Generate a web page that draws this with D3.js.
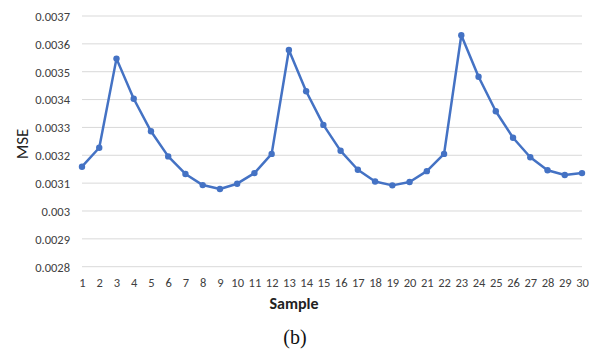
<!DOCTYPE html>
<html><head><meta charset="utf-8">
<script src="https://cdn.jsdelivr.net/npm/d3@7"></script>
<style>body{margin:0;background:#fff}svg{display:block}</style>
</head><body>
<svg id="c" width="590" height="352"></svg>
<script>
const samples = d3.range(1, 31);
const mse = [0.003159,0.003227,0.003547,0.003403,0.003286,0.003196,0.003133,0.003093,0.003079,0.003098,
             0.003136,0.003205,0.003578,0.003430,0.003309,0.003216,0.003148,0.003106,0.003092,0.003104,
             0.003143,0.003205,0.003631,0.003482,0.003358,0.003263,0.003193,0.003146,0.003129,0.003136];
const yTicks = [0.0028,0.0029,0.003,0.0031,0.0032,0.0033,0.0034,0.0035,0.0036,0.0037];
const yTickLabels = ["0.0028","0.0029","0.003","0.0031","0.0032","0.0033","0.0034","0.0035","0.0036","0.0037"];

const svg = d3.select("#c");
const x = d3.scaleLinear().domain([1,30]).range([82,582]);
const y = d3.scaleLinear().domain([0.0028,0.0037]).range([266.7,16]);
const FONT = "Calibri, Carlito, 'Liberation Sans', Arial, sans-serif";

// gridlines
svg.append("g").selectAll("line").data(yTicks).join("line")
  .attr("x1",82).attr("x2",582).attr("y1",d=>y(d)).attr("y2",d=>y(d))
  .attr("stroke","#d9d9d9").attr("stroke-width",1);

// y axis labels
const yAxis = d3.axisLeft(y).tickValues(yTicks).tickSize(0).tickPadding(0)
  .tickFormat((d,i)=>yTickLabels[i]);
const gy = svg.append("g").attr("transform","translate(70,0)").call(yAxis);
gy.select(".domain").remove();
gy.selectAll("text").attr("font-family",FONT)
  .attr("font-size",12.5).attr("fill","#404040").attr("dy","0.35em");

// x axis labels
const xAxis = d3.axisBottom(x).tickValues(samples).tickSize(0).tickPadding(0).tickFormat(d3.format("d"));
const gx = svg.append("g").attr("transform","translate(0,278.5)").call(xAxis);
gx.select(".domain").remove();
gx.selectAll("text").attr("font-family",FONT)
  .attr("font-size",12.5).attr("fill","#404040").attr("dy","0.71em");

// line
svg.append("path").datum(mse)
  .attr("d", d3.line().x((d,i)=>x(samples[i])).y(d=>y(d)))
  .attr("fill","none").attr("stroke","#4472C4").attr("stroke-width",2.5).attr("stroke-linejoin","round");
svg.append("g").selectAll("circle").data(mse).join("circle")
  .attr("cx",(d,i)=>x(samples[i])).attr("cy",d=>y(d)).attr("r",3.2).attr("fill","#4472C4");

// axis titles
svg.append("text").attr("transform","translate(28,144) rotate(-90)").attr("text-anchor","middle")
  .attr("font-family",FONT).attr("font-size",17)
  .attr("fill","#222").text("MSE");
svg.append("text").attr("x",294).attr("y",309).attr("text-anchor","middle")
  .attr("font-family",FONT).attr("font-size",16)
  .attr("font-weight","bold").attr("fill","#222").text("Sample");
svg.append("text").attr("x",295).attr("y",344).attr("text-anchor","middle")
  .attr("font-family","'Liberation Serif', 'Times New Roman', serif").attr("font-size",20)
  .attr("fill","#111").text("(b)");
</script>
</body></html>
